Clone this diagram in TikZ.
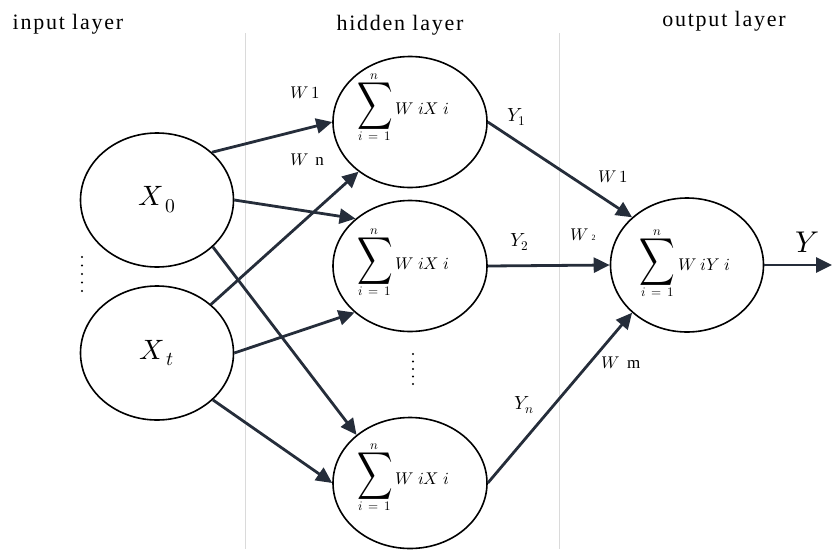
\documentclass[tikz,border=0pt]{standalone}
\usepackage{fontspec}
\usepackage{unicode-math}
\setmainfont{Liberation Serif}
\setmathfont{Latin Modern Math}
\usepackage{graphicx}
\usetikzlibrary{shapes.geometric,arrows.meta}

\definecolor{wire}{HTML}{252D3A}
\definecolor{divider}{HTML}{DADADA}

% enlarged summation sign with limits set in a fixed size
\newcommand{\limtext}[1]{\mbox{\fontsize{13}{13}\selectfont$#1$}}
\newcommand{\Bsum}{\mathop{\scalebox{1.45}[1.95]{$\displaystyle\sum$}}\limits_{\limtext{i\,=\,1}}^{\limtext{n}}}

\tikzset{
  neuron/.style={draw=black, line width=1.6pt, ellipse, inner sep=0pt},
  inneuron/.style={neuron, minimum width=153pt, minimum height=134pt},
  hidneuron/.style={neuron, minimum width=154pt, minimum height=131pt},
  link/.style={draw=wire, line width=2.8pt, -{Triangle[length=16pt,width=15pt]}},
  layertitle/.style={font=\fontsize{22}{24}\selectfont\addfontfeature{LetterSpace=8}},
  sumtext/.style={font=\fontsize{17}{19}\selectfont},
  wlabel/.style={font=\fontsize{17}{19}\selectfont},
  ylabel/.style={font=\fontsize{19}{21}\selectfont},
  sep/.style={draw=divider, line width=0.8pt}
}

\begin{document}
\begin{tikzpicture}[x=1pt,y=-1pt]
\useasboundingbox (0,0) rectangle (832,549);

% layer separators
\draw[sep] (245,33) -- (245,549);
\draw[sep] (559,33) -- (559,549);

% layer titles
\node[layertitle] (tin)  at (68,24)  {input layer};
\node[layertitle] (thid) at (400,25) {hidden layer};
\node[layertitle] (tout) at (724,21) {output layer};

% input neurons
\node[inneuron, font=\fontsize{28}{30}\selectfont] (x0) at (157,200) {$X_{\,0}$};
\node[inneuron, font=\fontsize{28}{30}\selectfont] (xt) at (157,353) {$X_{\,t}$};

% hidden neurons
\node[hidneuron] (h1) at (410,122) {};
\node[hidneuron] (h2) at (410,266) {};
\node[hidneuron] (h3) at (410,483) {};

% output neuron
\node[neuron, minimum width=153pt, minimum height=134pt] (o) at (687,265) {};

% weighted sums
\node[sumtext] (s1) at (403,107) {$\Bsum W\ iX\ i$};
\node[sumtext] (s2) at (403,262) {$\Bsum W\ iX\ i$};
\node[sumtext] (s3) at (403,477) {$\Bsum W\ iX\ i$};
\node[sumtext] (so) at (685,263) {$\Bsum W\ iY\ i$};

% vertical ellipsis marks
\foreach \k in {0,...,4} {
  \fill (82,257+8.5*\k) circle (1.1pt);
  \fill (413,354+7.5*\k) circle (1.1pt);
}

% input -> hidden
\draw[link] (x0.41) -- (h1.180);
\draw[link] (x0.0)  -- (h2.139);
\draw[link] (x0.-40) -- (h3.138);
\draw[link] (xt.42) -- (h1.224);
\draw[link] (xt.0)  -- (h2.220);
\draw[link] (xt.-40) -- (h3.180);

% hidden -> output
\draw[link] (h1.0) -- (o.139);
\draw[link] (h2.0) -- (o.180);
\draw[link] (h3.0) -- (o.221);

% output
\coordinate (yend) at (832,265);
\draw[link] (o.0) -- (yend);

% weight and signal labels
\node[wlabel] (w1a) at (305,93)  {$W\,1$};
\node[wlabel] (wn)  at (307,160) {$W$\, n};
\node[ylabel] (y1)  at (517,117) {$Y_1$};
\node[wlabel] (w1b) at (613,177) {$W\,1$};
\node[ylabel] (y2)  at (520,242) {$Y_2$};
\node[wlabel] (w2)  at (583,235) {$W$\,{\footnotesize 2}};
\node[ylabel] (yn)  at (524,405) {$Y_n$};
\node[wlabel] (wm)  at (621,363) {$W$\, m};
\node[font=\fontsize{30}{32}\selectfont] (yout) at (807,242) {$Y$};
\end{tikzpicture}
\end{document}
